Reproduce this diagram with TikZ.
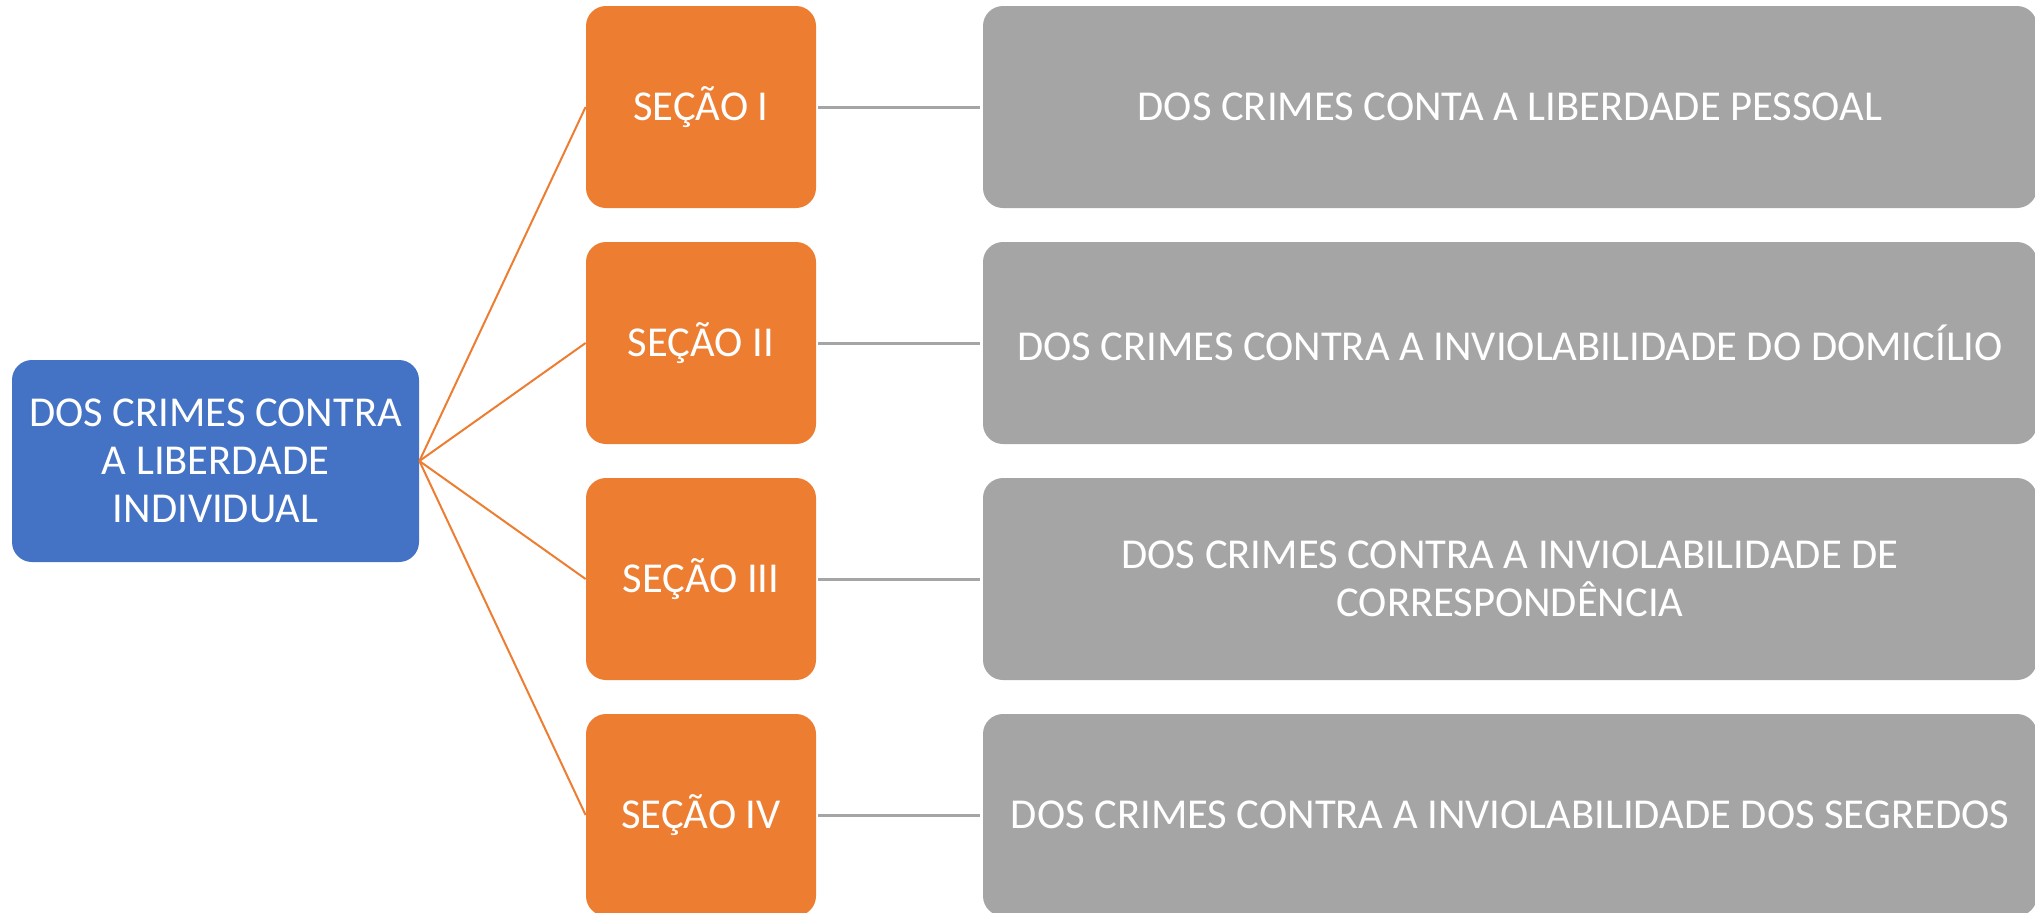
\documentclass[tikz,border=0pt]{standalone}
\usepackage{fontspec}
\setmainfont{Carlito}
\definecolor{cblue}{HTML}{4472C4}
\definecolor{corange}{HTML}{ED7D31}
\definecolor{cgray}{HTML}{A5A5A5}
\begin{document}
\begin{tikzpicture}[x=0.5pt,y=-0.5pt,
  box/.style={rectangle,rounded corners=10pt,minimum height=101pt,inner sep=0pt,
    text=white,align=center,font=\fontsize{21.3}{24}\selectfont},
  rootbox/.style={box,fill=cblue,minimum width=203.5pt},
  secbox/.style={box,fill=corange,minimum width=115pt},
  graybox/.style={box,fill=cgray,minimum width=527pt},
  oline/.style={draw=corange,line width=1pt},
  gline/.style={draw=cgray,line width=1.5pt}]
\useasboundingbox (0,0) rectangle (2035,912);
\node[rootbox] (root) at (215.5,461) {DOS CRIMES CONTRA\\A LIBERDADE\\INDIVIDUAL};
\node[secbox] (s1) at (701,107) {SEÇÃO I};
\node[secbox] (s2) at (701,343) {SEÇÃO II};
\node[secbox] (s3) at (701,579) {SEÇÃO III};
\node[secbox] (s4) at (701,815) {SEÇÃO IV};
\node[graybox] (g1) at (1510,107) {DOS CRIMES CONTA A LIBERDADE PESSOAL};
\node[graybox] (g2) at (1510,343) {DOS CRIMES CONTRA A INVIOLABILIDADE DO DOMICÍLIO};
\node[graybox] (g3) at (1510,579) {DOS CRIMES CONTRA A INVIOLABILIDADE DE\\CORRESPONDÊNCIA};
\node[graybox] (g4) at (1510,815) {DOS CRIMES CONTRA A INVIOLABILIDADE DOS SEGREDOS};
\foreach \i in {1,2,3,4}{
  \draw[oline] (root.east) -- (s\i.west);
  \draw[gline] ([xshift=1pt]s\i.east) -- ([xshift=-1.5pt]g\i.west);
}
\end{tikzpicture}
\end{document}
